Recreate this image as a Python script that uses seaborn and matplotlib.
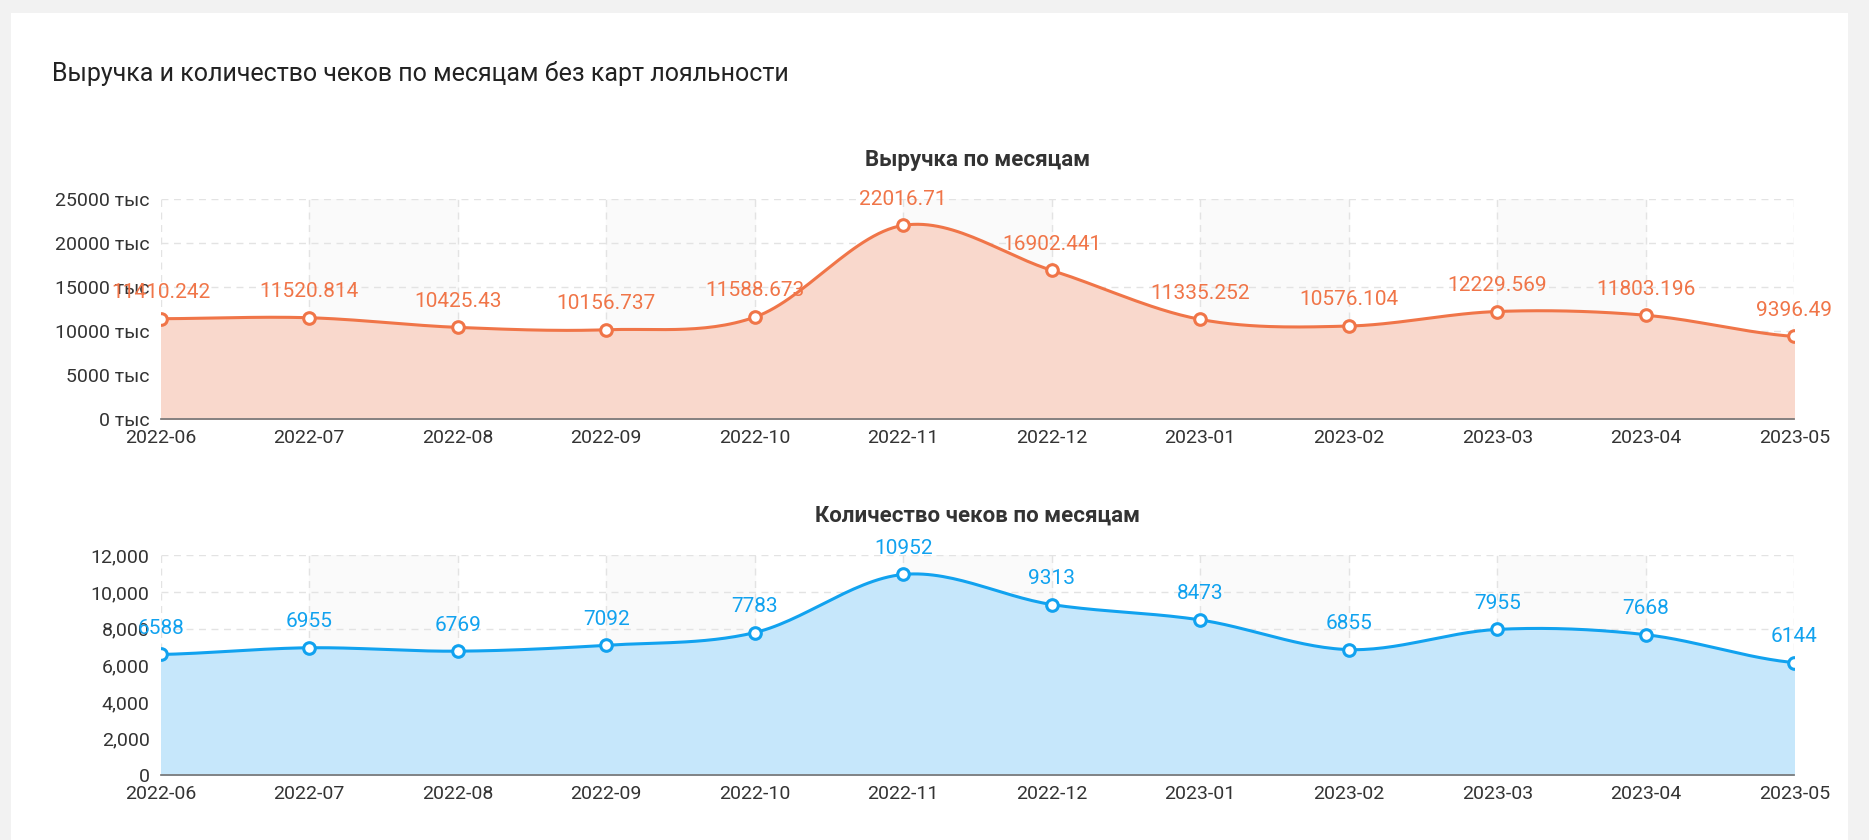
import numpy as np
import matplotlib
matplotlib.use("Agg")
import matplotlib.pyplot as plt
import seaborn as sns

months = ["2022-06","2022-07","2022-08","2022-09","2022-10","2022-11","2022-12",
          "2023-01","2023-02","2023-03","2023-04","2023-05"]
revenue = [11410.242,11520.814,10425.43,10156.737,11588.673,22016.71,16902.441,
           11335.252,10576.104,12229.569,11803.196,9396.49]
checks = [6588,6955,6769,7092,7783,10952,9313,8473,6855,7955,7668,6144]
rev_labels = ["11410.242","11520.814","10425.43","10156.737","11588.673","22016.71",
              "16902.441","11335.252","10576.104","12229.569","11803.196","9396.49"]

sns.set_theme(style="white")
plt.rcParams['font.family'] = ['Roboto', 'DejaVu Sans']

def smooth(y, n=30):
    y = np.asarray(y, float)
    p = np.concatenate([[y[0]], y, [y[-1]]])
    xs, ys = [], []
    for i in range(len(y) - 1):
        p0, p1, p2, p3 = p[i], p[i+1], p[i+2], p[i+3]
        t = np.linspace(0, 1, n, endpoint=False)
        yy = 0.5*((2*p1) + (-p0+p2)*t + (2*p0-5*p1+4*p2-p3)*t**2 + (-p0+3*p1-3*p2+p3)*t**3)
        xs.append(i + t); ys.append(yy)
    xs.append([len(y)-1]); ys.append([y[-1]])
    return np.concatenate(xs), np.concatenate(ys)

fig = plt.figure(figsize=(18.69, 8.4), dpi=100)
fig.patch.set_facecolor("#f2f2f2")
card = fig.add_axes([0.006, 0.0, 0.983, 0.985])
card.set_facecolor("white"); card.set_xticks([]); card.set_yticks([])
for s in card.spines.values(): s.set_visible(False)
fig.text(0.028, 0.912, "Выручка и количество чеков по месяцам без карт лояльности",
         fontsize=18, color="#222222", va="center")

def draw(ax, vals, labels, color, fill, ymax, step, fmt, title):
    x = np.arange(len(months))
    for i in range(0, len(months) - 1):
        if i % 2 == 1:
            ax.axvspan(i, i+1, color="#fafafa", zorder=0)
    sx, sy = smooth(vals)
    ax.fill_between(sx, 0, sy, color=fill, zorder=1)
    sns.lineplot(x=sx, y=sy, ax=ax, color=color, lw=2.2, zorder=3)
    ax.scatter(x, vals, s=70, facecolor="white", edgecolor=color, linewidth=2.2, zorder=4)
    for xi, v, lab in zip(x, vals, labels):
        ax.annotate(lab, (xi, v), xytext=(0, 12), textcoords="offset points",
                    ha="center", va="bottom", color=color, fontsize=15)
    ax.set_xlim(0, len(months) - 1)
    ax.set_ylim(0, ymax)
    ax.set_xticks(x); ax.set_xticklabels(months, fontsize=14, color="#333333")
    yt = np.arange(0, ymax + 1, step)
    ax.set_yticks(yt); ax.set_yticklabels([fmt(v) for v in yt], fontsize=14, color="#333333")
    ax.grid(True, ls=(0, (5, 4)), color="#e3e3e3", lw=1)
    ax.set_axisbelow(True)
    for s in ["top", "right", "left"]: ax.spines[s].set_visible(False)
    ax.spines["bottom"].set_color("#777777")
    ax.tick_params(axis="x", length=5, color="#777777", pad=2)
    ax.tick_params(axis="y", length=0, pad=8)
    ax.set_title(title, fontsize=16, fontweight="bold", color="#333333", pad=24)
    ax.set_facecolor("none")

ax1 = fig.add_axes([0.086, 0.501, 0.874, 0.262])
draw(ax1, revenue, rev_labels, "#f07548", "#f9d8cc", 25000, 5000,
     lambda v: f"{int(v)} тыс", "Выручка по месяцам")
ax2 = fig.add_axes([0.086, 0.077, 0.874, 0.262])
draw(ax2, checks, [str(c) for c in checks], "#11a2ef", "#c6e7fb", 12000, 2000,
     lambda v: f"{int(v):,}", "Количество чеков по месяцам")

fig.savefig("out.png", dpi=100)
